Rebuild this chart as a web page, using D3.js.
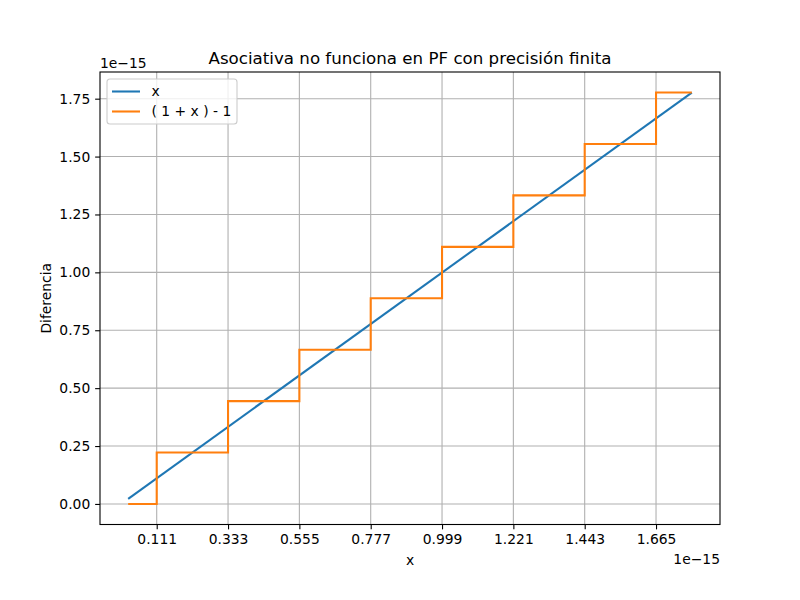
<!DOCTYPE html>
<html>
<head>
<meta charset="utf-8">
<script src="https://cdn.jsdelivr.net/npm/d3@7"></script>
<style>
  body { margin: 0; background: #fff; }
  svg { font-family: "DejaVu Sans", sans-serif; }
</style>
</head>
<body>
<div id="chart"></div>
<script>
// values in units of 1e-15
const xTicks = [0.111, 0.333, 0.555, 0.777, 0.999, 1.221, 1.443, 1.665]
const yTicks = [0, 0.25, 0.5, 0.75, 1.0, 1.25, 1.5, 1.75]
const lineX = [[0.0222, 0.0222], [1.7764, 1.7764]]
const stepX = [0.0222, 0.111, 0.333, 0.555, 0.777, 0.999, 1.221, 1.443, 1.665, 1.7764]
const stepY = [0, 0.2220, 0.4441, 0.6661, 0.8882, 1.1102, 1.3323, 1.5543, 1.7764, 1.7764]
const seriesNames = ['x', '( 1 + x ) - 1']
const colors = ['#1f77b4', '#ff7f0e']

const width = 800, height = 600
const m = { left: 100, right: 720, top: 72, bottom: 524.5 }
const fs = 13.89

const svg = d3.select('#chart').append('svg')
  .attr('width', width)
  .attr('height', height)

const xs = d3.scaleLinear().domain([-0.0655, 1.8641]).range([m.left, m.right])
const ys = d3.scaleLinear().domain([-0.0888, 1.8652]).range([m.bottom, m.top])

// grid
const grid = svg.append('g')
grid.selectAll('.gx').data(xTicks).enter().append('line')
  .attr('x1', d => xs(d)).attr('x2', d => xs(d))
  .attr('y1', m.top).attr('y2', m.bottom)
  .attr('stroke', '#b0b0b0').attr('stroke-width', 1.1)
grid.selectAll('.gy').data(yTicks).enter().append('line')
  .attr('y1', d => ys(d)).attr('y2', d => ys(d))
  .attr('x1', m.left).attr('x2', m.right)
  .attr('stroke', '#b0b0b0').attr('stroke-width', 1.1)

// lines
svg.append('clipPath').attr('id', 'clip').append('rect')
  .attr('x', m.left).attr('y', m.top).attr('width', m.right - m.left).attr('height', m.bottom - m.top)

const plot = svg.append('g').attr('clip-path', 'url(#clip)')
plot.append('path')
  .datum(lineX)
  .attr('d', d3.line().x(d => xs(d[0])).y(d => ys(d[1])))
  .attr('fill', 'none').attr('stroke', colors[0]).attr('stroke-width', 2.08)

plot.append('path')
  .datum(stepX.map((x, i) => [x, stepY[i]]))
  .attr('d', d3.line().curve(d3.curveStepAfter).x(d => xs(d[0])).y(d => ys(d[1])))
  .attr('fill', 'none').attr('stroke', colors[1]).attr('stroke-width', 2.08)

// axes
const xAxis = d3.axisBottom(xs).tickValues(xTicks).tickFormat(d3.format('.3f')).tickSizeOuter(0).tickSize(4.86).tickPadding(4.9)
const yAxis = d3.axisLeft(ys).tickValues(yTicks).tickFormat(d3.format('.2f')).tickSizeOuter(0).tickSize(4.86).tickPadding(4.9)

const gx = svg.append('g').attr('transform', `translate(0,${m.bottom})`).call(xAxis)
const gy = svg.append('g').attr('transform', `translate(${m.left},0)`).call(yAxis)
;[gx, gy].forEach(g => {
  g.select('.domain').remove()
  g.selectAll('text').attr('font-size', fs).attr('fill', '#000').attr('font-family', '"DejaVu Sans", sans-serif')
  g.selectAll('line').attr('stroke', '#000').attr('stroke-width', 1.1)
})

svg.append('rect')
  .attr('x', m.left).attr('y', m.top)
  .attr('width', m.right - m.left).attr('height', m.bottom - m.top)
  .attr('fill', 'none').attr('stroke', '#000').attr('stroke-width', 1.1)

// offset texts
svg.append('text').attr('x', m.left).attr('y', 67.5)
  .attr('font-size', fs).text('1e\u221215')
svg.append('text').attr('x', m.right).attr('y', 564)
  .attr('text-anchor', 'end').attr('font-size', fs).text('1e\u221215')

// labels
svg.append('text').attr('x', (m.left + m.right) / 2).attr('y', 565)
  .attr('text-anchor', 'middle').attr('font-size', fs).text('x')
svg.append('text')
  .attr('transform', `translate(51,${(m.top + m.bottom) / 2}) rotate(-90)`)
  .attr('text-anchor', 'middle').attr('font-size', fs).text('Diferencia')
svg.append('text').attr('x', (m.left + m.right) / 2).attr('y', 64)
  .attr('text-anchor', 'middle').attr('font-size', 16.67)
  .text('Asociativa no funciona en PF con precisión finita')

// legend
const lg = svg.append('g').attr('transform', 'translate(107,79)')
lg.append('rect').attr('width', 130).attr('height', 45).attr('rx', 3)
  .attr('fill', '#fff').attr('fill-opacity', 0.8)
  .attr('stroke', '#cccccc').attr('stroke-width', 1.1)
seriesNames.forEach((name, i) => {
  const y = 12.5 + i * 20
  lg.append('line').attr('x1', 5).attr('x2', 33).attr('y1', y).attr('y2', y)
    .attr('stroke', colors[i]).attr('stroke-width', 2.08)
  lg.append('text').attr('x', 44.5).attr('y', y + 4.8)
    .attr('font-size', fs).text(name)
})
</script>
</body>
</html>
